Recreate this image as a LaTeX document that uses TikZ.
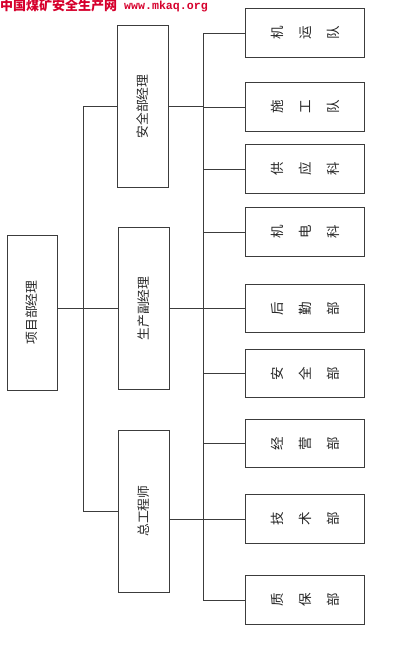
\documentclass[tikz,border=0pt]{standalone}
\usepackage{fontspec}
\newfontfamily\cjk{Noto Sans CJK SC}
\setmonofont{Liberation Mono}
\usetikzlibrary{math}
\definecolor{webred}{RGB}{214,0,44}
\definecolor{lgray}{RGB}{60,60,60}
\newcommand{\vtext}[1]{\rotatebox{90}{#1}}
\newcommand{\vstack}[3]{\rotatebox{90}{\def\arraystretch{2}\begin{tabular}{@{}c@{}}#1\\#2\\#3\end{tabular}}}

\begin{document}
\begin{tikzpicture}[x=1pt,y=-1pt,
  box/.style={draw=lgray, line width=0.9pt, inner sep=0pt, text=black!85,
    font=\cjk\fontsize{12.8}{15}\selectfont},
  mbox/.style={box, minimum width=51pt, minimum height=162pt},
  rbox/.style={box, minimum width=119pt, minimum height=48.5pt,
    font=\cjk\fontsize{13.5}{14}\selectfont},
  link/.style={draw=lgray, line width=0.9pt}]

\useasboundingbox (0,0) rectangle (402,645);

\tikzmath{
\tx = 83;    %trunk
\bx = 203;   %bus
\rx = 304.5; %right column
}

\coordinate (trunk) at (\tx,0);
\coordinate (bus) at (\bx,0);

%header:
\node[anchor=west, inner sep=0pt, text=webred, font=\cjk\bfseries\fontsize{13}{13}\selectfont] (site) at (0,6) {中国煤矿安全生产网};
\node[anchor=west, inner sep=0pt, text=webred, font=\ttfamily\bfseries\fontsize{11.6}{12}\selectfont] (url) at (124,7) {www.mkaq.org};

%managers:
\node[box, minimum width=50pt, minimum height=155pt] (pm) at (32,312.5) {\vtext{项目部经理}};
\node[mbox] (safe) at (143,106.5) {\vtext{安全部经理}};
\node[mbox] (prod) at (143.5,308.5) {\vtext{生产副经理}};
\node[mbox] (chief) at (143.5,511) {\vtext{总工程师}};

%departments:
\foreach \y/\a/\b/\c [count=\i] in {33/机/运/队, 107/施/工/队, 169/供/应/科,
  232/机/电/科, 308.5/后/勤/部, 373.5/安/全/部, 443.5/经/营/部,
  519/技/术/部, 600/质/保/部}
  \node[rbox] (r\i) at (\rx,\y) {\vstack{\a}{\b}{\c}};

%links:
\draw[link] (trunk |- safe.west) -- (trunk |- chief.west);
\draw[link] (pm.east |- prod.west) -- (prod.west);
\draw[link] (trunk |- safe.west) -- (safe.west);
\draw[link] (trunk |- chief.west) -- (chief.west);

\draw[link] (bus |- r1.west) -- (bus |- r9.west);
\foreach \i in {1,...,9}
  \draw[link] (bus |- r\i.west) -- (r\i.west);
\draw[link] (safe.east) -- (bus |- safe.east);
\draw[link] (prod.east) -- (bus |- prod.east);
\draw[link] (chief.east |- r8.west) -- (bus |- r8.west);

\end{tikzpicture}
\end{document}
